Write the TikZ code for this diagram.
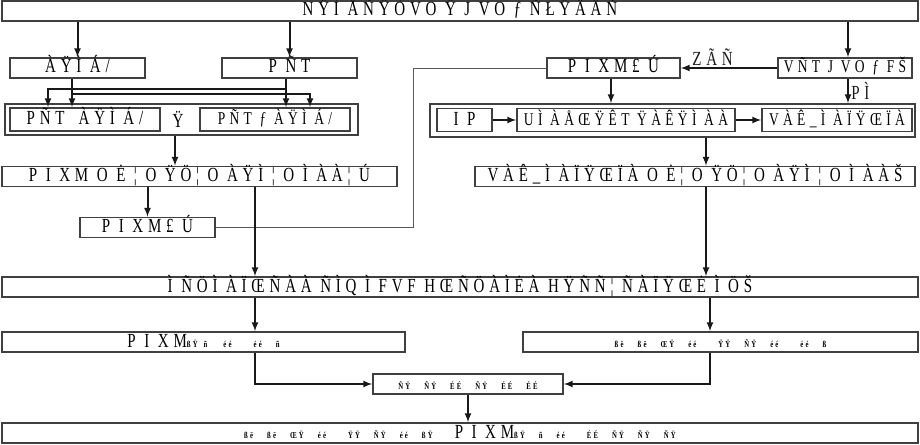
\documentclass[tikz,border=0pt]{standalone}
\usepackage{fontspec}
\setmainfont{Liberation Serif}[FakeStretch=0.75,LetterSpace=24]
\usetikzlibrary{arrows, positioning, calc}
\newcommand{\tg}[1]{{\fontsize{9}{10}\selectfont\bfseries #1}}

\begin{document}
\begin{tikzpicture}[x=1pt, y=-1pt,
    box/.style={rectangle, draw=black!75, line width=1.6pt, inner sep=0pt, minimum height=20pt, text height=13pt, text depth=3pt, font=\fontsize{20}{21}\selectfont},
    inbox/.style={box, minimum height=23pt},
    tight/.style={font=\fontsize{18}{19}\selectfont},
    group/.style={rectangle, draw=black!75, line width=1.6pt, inner sep=0pt},
    arrow/.style={-latex, line width=2pt, black!90},
    link/.style={line width=1pt, black!65}
]
    \useasboundingbox (0,0) rectangle (920,444);

    % top
    \node[box, minimum width=916pt] (top) at (460,11) {NŸÌ ÅÑŸÒVO Ÿ J VO ƒ ÑŁŸÄÄÑ};

    % left column
    \node[box, minimum width=135pt] (b1) at (77.5,68) {ÀŸÌ Á/};
    \node[box, minimum width=135pt] (b2) at (289.5,68) {P ÑT};
    \node[group, minimum width=353pt, minimum height=31pt] (lg) at (181.5,119.5) {};
    \node[inbox, minimum width=150pt] (l1) at (85,119.5) {PÑT\hspace{14pt}ÀŸÌ Á/};
    \node[font=\fontsize{20}{21}\selectfont] (lor) at (178,119.5) {Ÿ};
    \node[inbox, tight, minimum width=150pt] (l2) at (275,119.5) {PÑT ƒ ÀŸÌ Á/};
    \node[box, minimum width=395pt] (L3) at (199.5,176.5) {P I XM O Ė ¦ O ŸÖ¦ O ÀŸÌ ¦ O Ì ÀÀ¦ Ú};
    \node[box, minimum width=135pt] (L4) at (147.5,227.5) {P I XM£ Ú};

    % right column
    \node[box, minimum width=133pt] (r1) at (613.5,68) {P I XM£ Ú};
    \node[box, tight, minimum width=134pt] (r2) at (845,68) {VÑT J VO ƒ FŠ};
    \node[group, minimum width=485pt, minimum height=33pt] (rg) at (672.5,120.5) {};
    \node[inbox, minimum width=55pt] (ri1) at (464.5,120) {I P};
    \node[inbox, tight, minimum width=218pt] (ri2) at (626,120) {UÌ ÀÅŒŸÊT ŸÀÊŸÌ ÀÀ};
    \node[inbox, tight, minimum width=150pt] (ri3) at (837,120) {VÀÊ\_Ì ÀÏŸŒÏÀ};
    \node[box, minimum width=440pt] (R3) at (695,176.5) {VÀÊ\_Ì ÀÏŸŒÏÀ O Ė¦ O ŸÖ¦ O ÀŸÌ ¦ O Ì ÀÀŠ};

    % lower rows
    \node[box, minimum width=916pt] (W) at (460,287) {Ì ÑÖÌ ÀÏŒÑÀÀ ÑÌQ Ì FVF HŒÑÖÀÌĖÀ HŸÑÑ¦ ÑÀÏŸŒĖ Ì ÖŠ};
    \node[box, minimum width=403pt] (BL) at (203.5,342) {P I XM\tg{ßŸ\hspace{6pt}ñ\hspace{16pt}éé\hspace{22pt}éé\hspace{14pt}ñ}};
    \node[box, minimum width=395pt] (BR) at (720.5,342) {\tg{ßë\hspace{14pt}ßë\hspace{14pt}ŒŸ\hspace{14pt}éé\hspace{22pt}ŸŸ\hspace{14pt}ÑŸ\hspace{14pt}éé\hspace{22pt}éé\hspace{14pt}ß}};
    \node[box, minimum width=190pt] (M) at (468,384) {\tg{ÑŸ\hspace{14pt}ÑŸ\hspace{14pt}ÉÉ\hspace{14pt}ÑŸ\hspace{14pt}ÉÉ\hspace{14pt}ÉÉ}};
    \node[box, minimum width=916pt] (B) at (460,433) {\tg{ßë\hspace{14pt}ßë\hspace{14pt}ŒŸ\hspace{14pt}éé\hspace{22pt}ŸŸ\hspace{14pt}ÑŸ\hspace{14pt}éé\hspace{14pt}ßŸ}\hspace{22pt}P I XM\tg{ßŸ\hspace{14pt}ñ\hspace{14pt}éé\hspace{22pt}ÉÉ\hspace{14pt}ÑŸ\hspace{14pt}ÑŸ\hspace{14pt}ÑŸ}};

    % helper columns and rails
    \coordinate (k0) at (48,0);
    \coordinate (k1) at (72,0);
    \coordinate (k3) at (286,0);
    \coordinate (k4) at (310,0);
    \coordinate (k5) at (413,0);
    \coordinate (k6) at (255,0);
    \coordinate (k7) at (848,0);
    \coordinate (k8) at (710,0);
    \coordinate (k9) at (706,0);
    \coordinate (k10) at (611,0);
    \coordinate (k11) at (175,0);
    \coordinate (h1) at (0,89);
    \coordinate (h2) at (0,94);

    \draw[arrow] (top.south -| b1.north) -- (b1.north);
    \draw[arrow] (top.south -| b2.north) -- (b2.north);
    \draw[arrow] (top.south -| k7) -- (r2.north -| k7);

    \draw[arrow] (b1.south -| k1) -- (l1.north -| k1);
    \draw[arrow] (b1.south -| k1) |- (k4 |- h2) -- (l2.north -| k4);
    \draw[arrow] (b2.south -| k3) -- (l2.north -| k3);
    \draw[arrow] (b2.south -| k3) |- (k0 |- h1) -- (l1.north -| k0);

    \draw[arrow] (lg.south -| k11) -- (L3.north -| k11);
    \draw[arrow] (L3.south -| L4.north) -- (L4.north);
    \draw[link] (L4.east) -- (L4.east -| k5) |- (r1.west);
    \draw[arrow] (L3.south -| k6) -- (W.north -| k6);

    \draw[arrow] (r2.west) -- node[pos=0.67, above=-2pt, font=\fontsize{20}{21}\selectfont] (fb) {ZÃÑ} (r1.east);
    \draw[arrow] (r2.south -| k7) -- node[right=-1pt, font=\fontsize{20}{21}\selectfont] (sel) {PÌ} (rg.north -| k7);
    \draw[arrow] (r1.south -| k10) -- (rg.north -| k10);
    \draw[arrow] (ri1) -- (ri2);
    \draw[arrow] (ri2) -- (ri3);
    \draw[arrow] (rg.south -| k9) -- (R3.north -| k9);
    \draw[arrow] (R3.south -| k9) -- (W.north -| k9);

    \draw[arrow] (W.south -| k6) -- (BL.north -| k6);
    \draw[arrow] (W.south -| k8) -- (BR.north -| k8);
    \draw[arrow] (BL.south -| k6) |- (M.west);
    \draw[arrow] (BR.south -| k8) |- (M.east);
    \draw[arrow] (M.south) -- (M.south |- B.north);
\end{tikzpicture}
\end{document}
